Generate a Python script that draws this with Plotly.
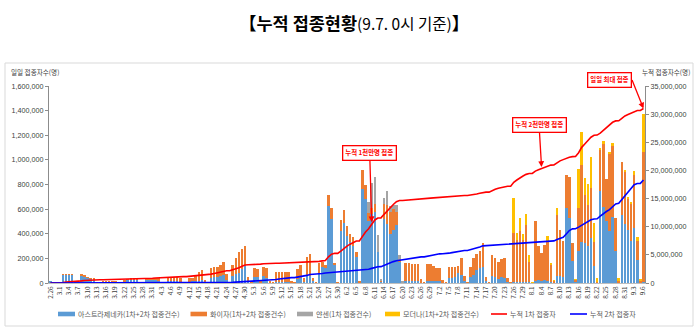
import datetime as dt
import plotly.graph_objects as go

# ---- categories: daily dates 2.26 .. 9.6 (2021) ----
start = dt.date(2021, 2, 26)
dates = [f"{d.month}.{d.day}" for d in (start + dt.timedelta(days=k) for k in range(193))]
tick_labels = dates[::3]

# ---- daily doses, thousands of people ----
az = [18, 2, 1, 3, 65, 68, 68, 68, 8, 4, 63, 56, 45, 37, 30, 4, 2, 8, 9, 9, 8, 8, 2, 1, 15, 28, 30, 30, 28, 3,
      1, 25, 27, 28, 25, 24, 3, 1, 18, 20, 20, 18, 12, 2, 1, 12, 14, 15, 20, 22, 5, 1, 40, 45, 48, 55, 65, 25, 2, 55,
      70, 85, 110, 140, 15, 2, 50, 45, 8, 55, 40, 4, 1, 12, 10, 10, 10, 8, 3, 1, 30, 40, 8, 55, 60, 15, 2, 80, 130, 120,
      625, 520, 150, 3, 420, 490, 380, 330, 300, 210, 8, 760, 680, 500, 560, 580, 250, 15, 520, 480, 400, 430, 470, 170, 5,
      18, 18, 18, 18, 18, 3, 1, 18, 18, 18, 18, 18, 3, 1, 40, 40, 51, 78, 65, 20, 1, 51, 65, 105, 119, 127, 20, 1,
      57, 51, 32, 51, 38, 5, 1,
      10, 10, 10, 10, 10, 5, 1, 20, 25, 20, 25, 15, 8, 2, 60, 60, 50, 607, 526, 175, 5, 256, 337, 324, 297, 364, 135, 3,
      748, 620, 500, 426, 540, 256, 3, 553, 478, 432, 343, 445, 184, 3, 10]
pfizer = [0, 1, 1, 0, 2, 2, 2, 2, 1, 0, 3, 3, 3, 3, 3, 1, 0, 5, 5, 5, 5, 4, 2, 1, 5, 4, 3, 3, 3, 1,
          1, 5, 5, 6, 12, 14, 3, 1, 28, 30, 30, 30, 26, 3, 1, 25, 30, 38, 72, 80, 18, 3, 80, 82, 85, 95, 105, 45, 4, 95,
          135, 165, 170, 160, 32, 6, 68, 65, 15, 72, 80, 8, 3, 75, 78, 78, 76, 78, 12, 2, 80, 105, 30, 160, 175, 25, 3, 85, 40, 30,
          90, 90, 15, 2, 90, 100, 80, 70, 70, 40, 2, 158, 120, 70, 50, 60, 0, 5, 120, 150, 180, 170, 110, 20, 3,
          147, 147, 137, 134, 134, 27, 2, 136, 136, 122, 106, 106, 21, 1, 87, 87, 76, 62, 140, 37, 1, 76, 135, 130, 140, 194, 31, 1,
          170, 149, 141, 143, 162, 33, 1,
          400, 340, 410, 340, 460, 165, 3, 485, 275, 220, 285, 330, 140, 15, 490, 372, 295, 270, 338, 149, 20, 351, 621, 391, 337, 405, 202, 7,
          335, 517, 342, 620, 579, 270, 17, 432, 425, 250, 298, 433, 154, 14, 1056]
janssen = [0] * 103 + [85, 200, 220, 140, 5, 50, 115, 45, 35, 50, 40, 2] + [0] * 78
moderna = [0] * 150 + [280, 60, 110, 50, 90, 60, 1, 0, 0, 0, 0, 40, 10, 3, 60, 0, 0, 0, 0, 0, 2,
                       319, 265, 135, 168, 257, 154, 30, 15, 15, 0, 20, 15, 0, 20, 0, 15, 20, 20, 32, 32, 10, 305]

# ---- cumulative people, millions ----
cum_first = [0.02, 0.02, 0.02, 0.03, 0.09, 0.16, 0.23, 0.30, 0.31, 0.31, 0.38, 0.44, 0.49, 0.53, 0.56, 0.56, 0.57,
             0.58, 0.59, 0.60, 0.61, 0.62, 0.62, 0.62, 0.64, 0.67, 0.70, 0.73, 0.76, 0.76, 0.76, 0.79, 0.82, 0.85,
             0.88, 0.92, 0.92, 0.92, 0.96, 1.01, 1.06, 1.10, 1.14, 1.14, 1.14, 1.18, 1.22, 1.27, 1.36, 1.45, 1.47,
             1.47, 1.58, 1.70, 1.82, 1.96, 2.12, 2.18, 2.18, 2.32, 2.50, 2.72, 2.96, 3.20, 3.24, 3.24, 3.30, 3.35,
             3.36, 3.42, 3.47, 3.48, 3.48, 3.50, 3.52, 3.54, 3.56, 3.58, 3.59, 3.59, 3.63, 3.67, 3.68, 3.72, 3.76,
             3.78, 3.78, 3.85, 3.93, 4.00, 4.65, 5.13, 5.27, 5.27, 5.68, 6.15, 6.55, 6.90, 7.23, 7.45, 7.46, 8.30,
             9.05, 9.65, 10.40, 11.20, 11.55, 11.57, 12.20, 12.85, 13.40, 13.95, 14.45, 14.65, 14.66, 14.72, 14.78,
             14.84, 14.90, 14.96, 14.98, 14.98, 15.03, 15.08, 15.13, 15.18, 15.23, 15.24, 15.24, 15.29, 15.34, 15.39,
             15.45, 15.52, 15.54, 15.54, 15.60, 15.70, 15.82, 15.95, 16.10, 16.14, 16.14, 16.45, 16.65, 16.85, 17.00,
             17.15, 17.20, 17.20, 17.90, 18.30, 18.70, 19.00, 19.30, 19.45, 19.46, 19.88, 20.12, 20.32, 20.58, 20.85,
             20.95, 20.97, 21.40, 21.70, 21.92, 22.15, 22.35, 22.45, 22.47, 23.15, 24.10, 24.70, 25.25, 25.90, 26.25,
             26.28, 26.62, 27.12, 27.45, 28.00, 28.55, 28.80, 28.82, 29.25, 29.68, 29.92, 30.15, 30.50, 30.65, 30.66,
             31.00]
cum_second = [0.0] * 24 + [0.005, 0.008, 0.01, 0.012, 0.014, 0.014, 0.014, 0.016, 0.018, 0.02, 0.022, 0.024, 0.024,
              0.024, 0.026, 0.028, 0.03, 0.032, 0.034, 0.034, 0.034, 0.036, 0.038, 0.04, 0.042, 0.045, 0.046, 0.046,
              0.05, 0.055, 0.06, 0.07, 0.08, 0.09, 0.09, 0.12, 0.15, 0.18, 0.21, 0.24, 0.26, 0.26, 0.32, 0.38, 0.39,
              0.46, 0.53, 0.54, 0.54, 0.62, 0.70, 0.78, 0.86, 0.94, 0.95, 0.95, 1.05, 1.16, 1.18, 1.35, 1.52, 1.55,
              1.55, 1.62, 1.70, 1.77, 1.82, 1.87, 1.89, 1.89, 1.96, 2.02, 2.07, 2.12, 2.17, 2.19, 2.19, 2.26, 2.35,
              2.45, 2.60, 2.80, 2.90, 2.91, 3.15, 3.40, 3.60, 3.80, 3.95, 4.05, 4.05, 4.18, 4.31, 4.42, 4.52, 4.62,
              4.64, 4.64, 4.76, 4.88, 4.98, 5.08, 5.18, 5.20, 5.20, 5.30, 5.40, 5.50, 5.62, 5.74, 5.77, 5.77, 5.90,
              6.05, 6.22, 6.40, 6.60, 6.64, 6.64, 6.74, 6.82, 6.87, 6.92, 6.96, 6.98, 6.98, 7.02, 7.06, 7.10, 7.14,
              7.18, 7.20, 7.20, 7.24, 7.27, 7.30, 7.34, 7.40, 7.46, 7.48, 7.72, 7.92, 8.12, 8.72, 9.32, 9.62, 9.64,
              9.92, 10.28, 10.58, 10.88, 11.22, 11.38, 11.40, 11.88, 12.35, 12.70, 13.05, 13.62, 14.05, 14.15, 14.80,
              15.45, 16.05, 16.65, 17.45, 17.68, 17.70, 18.30]

series_names = ["아스트라제네카(1차+2차 접종건수)", "화이자(1차+2차 접종건수)", "얀센(1차 접종건수)",
                "모더나(1차+2차 접종건수)", "누적 1차 접종자", "누적 2차 접종자"]
colors = ["#5B9BD5", "#ED7D31", "#A5A5A5", "#FFC000", "#FF0000", "#0000FF"]

# callout labels and the dates / cumulative values (millions) they point at
callouts = [("누적 1천만명 접종", "6.10", 10.8), ("누적 2천만명 접종", "8.4", 20.6), ("일일 최대 접종", "9.6", 31.0)]

K, M = 1000, 1_000_000
fig = go.Figure()
for vals, name, col in zip([az, pfizer, janssen, moderna], series_names[:4], colors[:4]):
    fig.add_trace(go.Bar(x=dates, y=[v * K for v in vals], name=name, marker_color=col,
                         marker_line_width=0, showlegend=False))
for vals, name, col in zip([cum_first, cum_second], series_names[4:], colors[4:]):
    fig.add_trace(go.Scatter(x=dates, y=[v * M for v in vals], name=name, yaxis="y2", mode="lines",
                             line=dict(color=col, width=1.6), showlegend=False))

FONT = "Noto Sans CJK KR, Liberation Sans, sans-serif"
W, H = 699, 331
L, R, T, B = 49, 54, 86, 48
pw, ph = W - L - R, H - T - B


def px(x):
    return (x - L) / pw


def py(y):
    return (H - B - y) / ph


axis_col = "#8c8c8c"
fig.update_layout(
    width=W, height=H, margin=dict(l=L, r=R, t=T, b=B),
    paper_bgcolor="white", plot_bgcolor="white",
    barmode="stack", bargap=0.18,
    font=dict(family=FONT, color="#404040", size=7),
    xaxis=dict(type="category", tickmode="array", tickvals=tick_labels, ticktext=tick_labels,
               tickangle=-90, tickfont=dict(size=6.3, color="#404040"), showline=True,
               linecolor="#bfbfbf", ticks="", showgrid=False, range=[-0.5, len(dates) - 0.5]),
    yaxis=dict(range=[0, 1_600_000], dtick=200_000, tickformat=",", showgrid=False, zeroline=False,
               showline=True, linecolor=axis_col, ticks="outside", ticklen=3, tickcolor=axis_col,
               tickfont=dict(size=7.2, color="#404040", family="Liberation Sans")),
    yaxis2=dict(range=[0, 35_000_000], dtick=5_000_000, tickformat=",", overlaying="y", side="right",
                showgrid=False, zeroline=False, showline=True, linecolor=axis_col, ticks="outside",
                ticklen=3, tickcolor=axis_col, tickfont=dict(size=7.2, color="#404040", family="Liberation Sans")),
    hovermode=False,
)

shapes = [dict(type="rect", xref="paper", yref="paper", x0=px(5), x1=px(693), y0=py(326), y1=py(63),
               line=dict(color="#d9d9d9", width=1), layer="below")]
annotations = []

# title
annotations.append(dict(xref="paper", yref="paper", x=px(354), y=py(22.5), xanchor="center", yanchor="middle",
                        showarrow=False,
                        text="<b>【누적 접종현황</b><span style='font-size:15.5px'>(9.7. 0시 기준)</span><b>】</b>",
                        font=dict(size=17.5, color="#000000", family=FONT)))
# axis titles
annotations.append(dict(xref="paper", yref="paper", x=px(9), y=py(72), xanchor="left", yanchor="middle",
                        showarrow=False, text="일일 접종자수(명)", font=dict(size=6.6, color="#404040")))
annotations.append(dict(xref="paper", yref="paper", x=px(640), y=py(72), xanchor="left", yanchor="middle",
                        showarrow=False, text="누적 접종자수(명)", font=dict(size=6.6, color="#404040")))

# callouts (x given as category index)
box = dict(bordercolor="#FF0000", borderwidth=1.3, borderpad=2, bgcolor="white",
           font=dict(size=6.4, color="#FF0000", family=FONT))
arrow = dict(arrowcolor="#FF0000", arrowwidth=1.3, arrowhead=2, arrowsize=0.9)
offsets = [(-2, -69), (-2.5, -42)]
for (label, day, val), (ax, ay) in zip(callouts[:2], offsets):
    annotations.append(dict(x=dates.index(day), y=val * M, xref="x", yref="y2", ax=ax, ay=ay,
                            text=f"<b>{label}</b>", showarrow=True, **box, **arrow))
label3, day3, val3 = callouts[2]
annotations.append(dict(x=dates.index(day3), y=val3 * M, xref="x", yref="y2", ax=-12, ay=-30, text="",
                        showarrow=True, **arrow))
annotations.append(dict(xref="paper", yref="paper", x=px(609), y=py(79.5), xanchor="center", yanchor="middle",
                        showarrow=False, text=f"<b>{label3}</b>", **box))

# legend (manual)
leg_y = 314
swatches = [(58, 75), (190.5, 207), (297, 313), (385, 400)]
for (x0, x1), col in zip(swatches, colors[:4]):
    shapes.append(dict(type="rect", xref="paper", yref="paper", x0=px(x0), x1=px(x1), y0=py(leg_y + 2.3),
                       y1=py(leg_y - 2.3), line=dict(width=0), fillcolor=col))
for (x0, x1), col in zip([(491, 507), (570, 587)], colors[4:]):
    shapes.append(dict(type="line", xref="paper", yref="paper", x0=px(x0), x1=px(x1), y0=py(leg_y),
                       y1=py(leg_y), line=dict(color=col, width=1.6)))
for xt, name in zip([76, 208, 314, 401, 508, 588], series_names):
    annotations.append(dict(xref="paper", yref="paper", x=px(xt), y=py(leg_y), xanchor="left", yanchor="middle",
                            showarrow=False, text=name, font=dict(size=7.0, color="#595959")))

fig.update_layout(shapes=shapes, annotations=annotations)
fig.write_html("out.html")
